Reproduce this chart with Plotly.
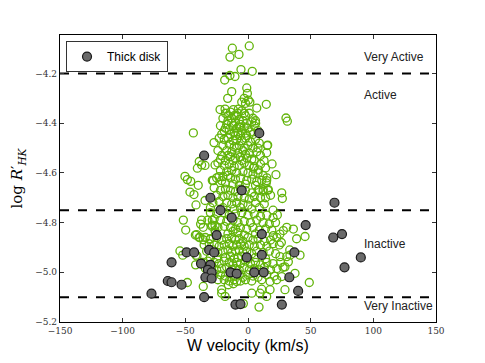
import plotly.graph_objects as go

# Thick disk stars: W velocity (km/s), log R'HK
thick_w = [9, -35, -30, -5, -22, -13, 69, 46, -25, 11, 68, 75, -49, -43, -31, -27, 11, 37, -1, 90,
           -61, -37.5, -30, -32, -29, -14, -9, 5, 12.5, 77, -34, -29, 33, -64, -61, -53, 40, -77, -35,
           -10, -6, 27]
thick_r = [-4.44, -4.53, -4.70, -4.67, -4.75, -4.78, -4.72, -4.81, -4.85, -4.846, -4.86, -4.846, -4.92,
           -4.92, -4.91, -4.92, -4.93, -4.92, -4.94, -4.94, -4.96, -4.965, -4.97, -4.99, -5.0, -5.0, -5.005,
           -5.0, -5.0, -4.98, -5.02, -5.025, -5.02, -5.035, -5.04, -5.05, -5.075, -5.086, -5.10, -5.13,
           -5.128, -5.13]

# Thin disk stars (open circles): (W velocity, log R'HK) pairs
thin_disk = [
    # dense core, -4.35 .. -4.45
    (-18, -4.36), (-14, -4.355), (-11, -4.37), (-8, -4.36), (-5, -4.35), (-2, -4.37), (1, -4.36), (4, -4.38),
    (-20, -4.38), (-16, -4.39), (-13, -4.38), (-10, -4.395), (-7, -4.385), (-4, -4.39), (-1, -4.40), (3, -4.395),
    (-22, -4.41), (-17, -4.405), (-12, -4.41), (-9, -4.42), (-6, -4.405), (-3, -4.415), (0, -4.42), (5, -4.41),
    (8, -4.43), (-19, -4.43), (-15, -4.425), (-11, -4.435), (-8, -4.44), (-5, -4.43), (-2, -4.44), (2, -4.435),
    (-21, -4.445), (-14, -4.445), (-10, -4.45), (-6, -4.45), (-1, -4.45), (4, -4.445), (-13, -4.40), (-7, -4.415),
    (-16, -4.37), (-3, -4.36), (6, -4.39), (-9, -4.37), (-18, -4.42),
    # -4.45 .. -4.55
    (-23, -4.46), (-19, -4.465), (-16, -4.46), (-12, -4.47), (-9, -4.465), (-5, -4.47), (-2, -4.46), (2, -4.475),
    (6, -4.465), (9, -4.48), (-20, -4.49), (-15, -4.485), (-11, -4.495), (-7, -4.49), (-3, -4.50), (0, -4.49),
    (4, -4.50), (-24, -4.51), (-17, -4.51), (-13, -4.515), (-8, -4.52), (-4, -4.51), (1, -4.52), (7, -4.515),
    (10, -4.53), (-21, -4.53), (-14, -4.535), (-10, -4.54), (-6, -4.535), (-1, -4.54), (3, -4.545), (-18, -4.55),
    (-12, -4.55), (-5, -4.55), (5, -4.55), (-9, -4.50), (-16, -4.53), (-2, -4.525), (8, -4.50), (-22, -4.545),
    # -4.55 .. -4.65
    (-24, -4.56), (-19, -4.57), (-15, -4.565), (-11, -4.575), (-7, -4.57), (-3, -4.56), (1, -4.57), (5, -4.575),
    (10, -4.565), (14, -4.58), (-22, -4.59), (-17, -4.595), (-13, -4.59), (-9, -4.60), (-4, -4.595), (0, -4.60),
    (4, -4.605), (8, -4.60), (12, -4.61), (-25, -4.62), (-20, -4.615), (-14, -4.62), (-10, -4.625), (-6, -4.62),
    (-1, -4.63), (3, -4.625), (7, -4.635), (11, -4.63), (15, -4.62), (-18, -4.64), (-12, -4.645), (-7, -4.65),
    (-2, -4.645), (6, -4.65), (-16, -4.61),
    # -4.65 .. -4.75
    (-27, -4.66), (-22, -4.67), (-18, -4.665), (-14, -4.67), (-10, -4.675), (-6, -4.665), (-2, -4.67), (3, -4.68),
    (8, -4.67), (12, -4.675), (16, -4.67), (-25, -4.69), (-20, -4.695), (-16, -4.69), (-12, -4.70), (-8, -4.695),
    (-3, -4.70), (1, -4.705), (5, -4.695), (10, -4.70), (18, -4.69), (-28, -4.72), (-23, -4.715), (-17, -4.72),
    (-13, -4.725), (-9, -4.72), (-4, -4.725), (0, -4.73), (6, -4.72), (13, -4.725), (-20, -4.74), (-11, -4.745),
    (-6, -4.74), (3, -4.745), (9, -4.74),
    # -4.75 .. -4.85
    (-30, -4.76), (-25, -4.765), (-19, -4.76), (-15, -4.77), (-10, -4.765), (-5, -4.76), (0, -4.77), (5, -4.765),
    (10, -4.775), (15, -4.77), (20, -4.78), (-32, -4.79), (-27, -4.785), (-22, -4.79), (-17, -4.795), (-12, -4.79),
    (-8, -4.80), (-3, -4.795), (2, -4.80), (7, -4.79), (12, -4.80), (17, -4.805), (22, -4.80), (-29, -4.815),
    (-24, -4.82), (-19, -4.815), (-14, -4.82), (-10, -4.825), (-6, -4.82), (-1, -4.825), (4, -4.82), (9, -4.83),
    (14, -4.825), (19, -4.83), (-26, -4.84), (-16, -4.845), (-8, -4.84), (-3, -4.85), (6, -4.845), (-12, -4.835),
    # -4.85 .. -4.95
    (-34, -4.86), (-30, -4.865), (-25, -4.86), (-21, -4.87), (-17, -4.865), (-13, -4.86), (-10, -4.87), (-7, -4.865),
    (-4, -4.875), (0, -4.86), (4, -4.87), (8, -4.865), (13, -4.875), (18, -4.87), (23, -4.86), (-35, -4.89),
    (-31, -4.885), (-27, -4.89), (-23, -4.895), (-19, -4.89), (-15, -4.885), (-12, -4.895), (-9, -4.89), (-6, -4.885),
    (-3, -4.895), (1, -4.89), (5, -4.895), (10, -4.89), (15, -4.895), (20, -4.885), (25, -4.89), (-33, -4.915),
    (-28, -4.91), (-24, -4.92), (-20, -4.915), (-16, -4.91), (-13, -4.92), (-10, -4.915), (-7, -4.91), (-4, -4.92),
    (-1, -4.915), (3, -4.925), (7, -4.915), (12, -4.92), (17, -4.915), (22, -4.925), (-30, -4.94), (-25, -4.945),
    (-18, -4.94), (-14, -4.935), (-11, -4.945), (-8, -4.94), (-5, -4.935), (0, -4.945), (6, -4.94), (14, -4.945),
    # -4.95 .. -5.04
    (-36, -4.96), (-32, -4.955), (-27, -4.96), (-23, -4.965), (-19, -4.955), (-15, -4.96), (-12, -4.97), (-9, -4.96),
    (-6, -4.965), (-2, -4.955), (2, -4.965), (6, -4.96), (10, -4.97), (15, -4.96), (20, -4.965), (26, -4.96),
    (-34, -4.985), (-29, -4.98), (-25, -4.99), (-21, -4.985), (-17, -4.98), (-13, -4.99), (-10, -4.985), (-7, -4.99),
    (-3, -4.98), (1, -4.99), (5, -4.985), (9, -4.99), (13, -4.98), (18, -4.99), (23, -4.985), (28, -4.98),
    (-31, -5.01), (-27, -5.005), (-22, -5.01), (-18, -5.015), (-14, -5.005), (-11, -5.015), (-7, -5.01), (-4, -5.02),
    (0, -5.01), (4, -5.015), (8, -5.02), (15, -5.01), (21, -5.015), (-24, -5.03), (-19, -5.03), (-15, -5.035),
    (-11, -5.03), (-6, -5.035), (-2, -5.03), (3, -5.035), (11, -5.03),
    # scattered stars
    (-12.5, -4.098), (1.0, -4.089), (-7.2, -4.123), (-14.4, -4.134), (-5.6, -4.184), (3.4, -4.191), (-14.4, -4.208),
    (-10.4, -4.212), (-18.6, -4.226), (-13, -4.273), (-1.0, -4.258), (-0.5, -4.28), (-16.2, -4.30), (0.3, -4.307),
    (-3, -4.30), (-5, -4.315), (-2, -4.32), (1.5, -4.315), (14.6, -4.324), (7, -4.339), (-22.3, -4.345),
    (-18.3, -4.343), (-11.7, -4.345), (-7.7, -4.343), (30.3, -4.379), (31.4, -4.392), (-43.6, -4.439), (6.1, -4.40),
    (-27.1, -4.478), (15.7, -4.488), (14.9, -4.519), (12.8, -4.55), (19.2, -4.564), (22.3, -4.607), (-38.9, -4.554),
    (-37, -4.568), (-40.4, -4.581), (-34.3, -4.57), (-50.3, -4.614), (-26.3, -4.568), (4.2, -4.581), (8.2, -4.588),
    (-48.4, -4.627), (-45.7, -4.634), (-39.7, -4.65), (-46.3, -4.677), (-43.1, -4.687), (-34.3, -4.711),
    (-41.5, -4.729), (-27.7, -4.631), (-21, -4.631), (14.9, -4.631), (9, -4.667), (12.2, -4.667), (16.2, -4.667),
    (26.9, -4.68), (27.4, -4.703), (23.4, -4.769), (-51.6, -4.79), (-49.7, -4.83), (-37, -4.79), (-37.8, -4.806),
    (-35.7, -4.819), (-41, -4.848), (-38.3, -4.859), (-35.7, -4.869), (-30.3, -4.867), (-26.3, -4.812),
    (-26.3, -4.832), (30.9, -4.819), (28.2, -4.832), (25.5, -4.846), (20.2, -4.852), (45.5, -4.856), (36.2, -4.826),
    (38.8, -4.865), (-54.3, -4.914), (-52.1, -4.931), (-41.5, -4.931), (-48.4, -5.041), (-35.7, -5.057),
    (-21, -5.07), (-21, -5.084), (-18.3, -5.097), (-15.7, -5.05), (-11.7, -5.046), (-9, -5.037), (-3.7, -5.126),
    (8.8, -5.14), (3, -5.084), (9.6, -5.084), (17.6, -5.07), (14.9, -5.097), (10.9, -5.068), (29.5, -5.07),
    (17.6, -5.037), (22.9, -5.03), (26.9, -5.017), (29.5, -4.978), (32.2, -4.958), (30.9, -4.937), (33.5, -4.931),
    (25.5, -4.937), (41.5, -4.931), (48.9, -5.041), (37.5, -5.004), (-41.8, -4.97), (-40.7, -4.935), (33.3, -4.91),
    (26.6, -4.88), (-42, -4.85), (-39, -4.86), (-28.5, -4.79), (-28.5, -4.81), (-28.5, -4.63), (-23.2, -4.615),
    (14.6, -4.64), (15.4, -4.49), (14, -4.70), (20, -4.75), (-30, -4.74),
]
thin_w = [p[0] for p in thin_disk]
thin_r = [p[1] for p in thin_disk]

# Activity boundaries and region labels
boundaries = [-4.2, -4.75, -5.1]
region_labels = ["Very Active", "Active", "Inactive", "Very Inactive"]
region_label_y = [-4.133, -4.287, -4.887, -5.137]

x_ticks = [-150, -100, -50, 0, 50, 100, 150]
y_ticks = [-5.2, -5.0, -4.8, -4.6, -4.4, -4.2]

fig = go.Figure()
fig.add_trace(go.Scatter(
    x=thin_w, y=thin_r, mode="markers", showlegend=False,
    marker=dict(symbol="circle-open", size=8, color="#62b40a", line=dict(width=1.3, color="#62b40a")),
))
fig.add_trace(go.Scatter(
    x=thick_w, y=thick_r, mode="markers", name="Thick disk",
    marker=dict(symbol="circle", size=9, color="#6a6a6a", line=dict(width=1.2, color="#1a1a1a")),
))

for b in boundaries:
    fig.add_shape(type="line", xref="paper", x0=0, x1=1, yref="y", y0=b, y1=b,
                  line=dict(color="black", width=2, dash="dash"), layer="below")

for lab, ly in zip(region_labels, region_label_y):
    fig.add_annotation(x=91, y=ly, text=lab, showarrow=False, xanchor="left", yanchor="middle",
                       font=dict(family="Liberation Sans, Arial", size=12, color="#222"))

tick_text_x = [str(v).replace("-", "\u2212") for v in x_ticks]
tick_text_y = [f"{v:.1f}".replace("-", "\u2212") for v in y_ticks]

fig.update_layout(
    width=485, height=363,
    margin=dict(l=60, r=49, t=35, b=37),
    paper_bgcolor="white", plot_bgcolor="white",
    legend=dict(x=0.016, y=0.979, xanchor="left", yanchor="top",
                bordercolor="#333", borderwidth=1, bgcolor="white",
                font=dict(family="Liberation Sans, Arial", size=12, color="black"),
                itemwidth=30, tracegroupgap=0),
    xaxis=dict(range=[-150, 150], tickvals=x_ticks, ticktext=tick_text_x,
               ticks="inside", ticklen=4, tickcolor="#333", mirror="ticks",
               showline=True, linecolor="black", linewidth=1.2, showgrid=False, zeroline=False,
               tickfont=dict(family="DejaVu Serif", size=9, color="#333"),
               title=dict(text="W velocity (km/s)", standoff=4,
                          font=dict(family="Liberation Sans, Arial", size=16, color="black"))),
    yaxis=dict(range=[-5.2, -4.045], tickvals=y_ticks, ticktext=tick_text_y,
               ticks="inside", ticklen=4, tickcolor="#333", mirror="ticks",
               showline=True, linecolor="black", linewidth=1.2, showgrid=False, zeroline=False,
               tickfont=dict(family="DejaVu Serif", size=9, color="#333"),
               title=dict(text="log <i>R</i>\u2032<sub><i>HK</i></sub>", standoff=8,
                          font=dict(family="DejaVu Serif", size=15, color="black"))),
)

fig.write_html("out.html", config={"displayModeBar": False},
               post_script="document.body.style.margin='0';")
